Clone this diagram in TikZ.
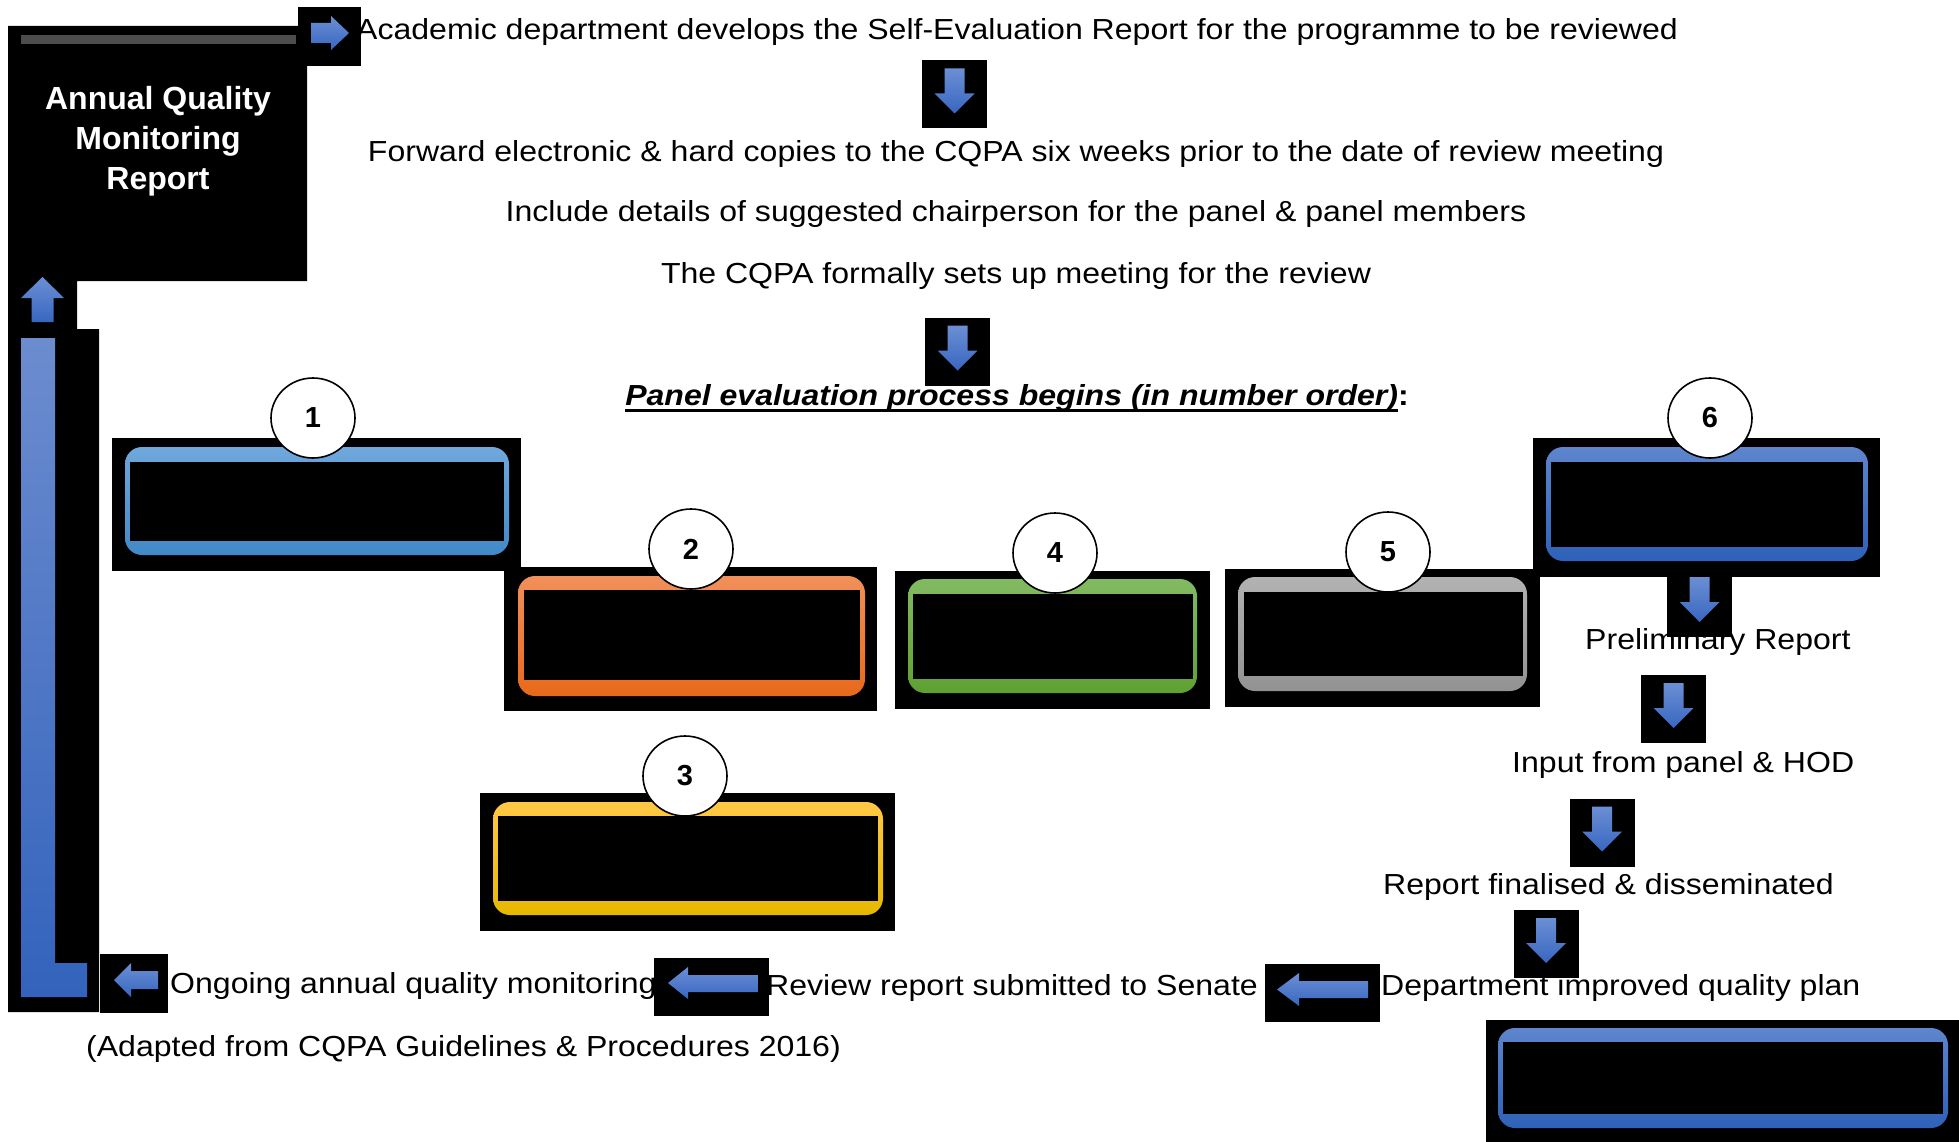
\documentclass[tikz,border=0pt]{standalone}
\usepackage{fontspec}
\setmainfont{Liberation Sans}
\newfontfamily\widesans{Liberation Sans}[FakeStretch=1.105]
\usetikzlibrary{shapes.geometric}

\definecolor{arrtop}{HTML}{6B8FD4}
\definecolor{arrbot}{HTML}{3866C0}
\definecolor{bartop}{HTML}{6C8CCF}
\definecolor{barbot}{HTML}{3363BC}
\definecolor{greybar}{HTML}{4D4D4D}
\definecolor{oneT}{HTML}{6FA8DC}\definecolor{oneB}{HTML}{4189C7}
\definecolor{twoT}{HTML}{F1905A}\definecolor{twoB}{HTML}{E8691A}
\definecolor{thrT}{HTML}{FFC845}\definecolor{thrB}{HTML}{E6B800}
\definecolor{fouT}{HTML}{82BA62}\definecolor{fouB}{HTML}{5FA032}
\definecolor{fivT}{HTML}{B2B2B2}\definecolor{fivB}{HTML}{929292}
\definecolor{sixT}{HTML}{5E85CD}\definecolor{sixB}{HTML}{2E61B8}

% underline drawn through the descenders, as in a word processor
\newcommand\ulwords[1]{\setbox0\hbox{#1}\rlap{\rule[-6.5pt]{\wd0}{2.5pt}}\box0}

\begin{document}
\begin{tikzpicture}[x=1pt,y=-1pt,
  blk/.style={fill=black},
  arr/.style={top color=arrtop,bottom color=arrbot,draw=none},
  frame/.style 2 args={rounded corners=17pt,top color=#1,bottom color=#2,draw=none},
  lbl/.style={inner sep=0pt,font=\widesans\fontsize{29}{34}\selectfont},
  numc/.style={ellipse,draw=black,line width=1.6pt,fill=white,minimum width=84pt,
    minimum height=80pt,inner sep=0pt,font=\bfseries\fontsize{29}{29}\selectfont},
  pics/downarr/.style={code={
    \fill[black] (-32.5,-34) rectangle (32.5,34);
    \path[arr] (-10,-26) -- (10,-26) -- (10,-1) -- (20,-1) -- (0,19) -- (-20,-1) -- (-10,-1) -- cycle;
  }}
]
\useasboundingbox[fill=white] (0,0) rectangle (1959,1142);

% ---- Annual Quality Monitoring Report column ----
\fill[blk] (8,26) -- (307,26) -- (307,281) -- (77,281) -- (77,329) -- (99,329)
  -- (99,1012) -- (8,1012) -- cycle;
\fill[greybar] (21,35) rectangle (296,44);
\node[align=center,text=white,inner sep=0pt,font=\bfseries\fontsize{32}{40}\selectfont]
  (aqmr) at (158,141.5) {Annual Quality\\Monitoring\\Report};
% up arrow above the return bar
\path[arr] (42.5,277) -- (64,298) -- (53.5,298) -- (53.5,322) -- (31.5,322) -- (31.5,298) -- (21,298) -- cycle;
% return bar (L shape)
\path[top color=bartop,bottom color=barbot] (21,338) -- (55,338) -- (55,963) -- (87,963)
  -- (87,997) -- (21,997) -- cycle;

% ---- top sequence of steps ----
\node[lbl,anchor=base] (s1) at (1017,40)
  {Academic department develops the Self-Evaluation Report for the programme to be reviewed};
\node[lbl,anchor=base] (s2) at (1016,162)
  {Forward electronic \& hard copies to the CQPA six weeks prior to the date of review meeting};
\node[lbl,anchor=base] (s3) at (1016,222)
  {Include details of suggested chairperson for the panel \& panel members};
\node[lbl,anchor=base] (s4) at (1016,283)
  {The CQPA formally sets up meeting for the review};
\node[lbl,anchor=base] (s5) at (1017,405)
  {\ulwords{\bfseries\itshape Panel evaluation process begins (in number order)}\textbf{:}};

% right arrow into the first step
\fill[blk] (298,7) rectangle (361,66);
\path[arr] (311,23) -- (331,23) -- (331,16) -- (349,33) -- (331,50) -- (331,43) -- (311,43) -- cycle;

\pic (d1) at (954.5,94.5) {downarr};
\pic (d2) at (957.5,351.5) {downarr};

% ---- numbered panel stages ----
% 1
\fill[blk] (112,438) rectangle (521,571);
\path[frame={oneT}{oneB}] (125,447) rectangle (509,555);
\fill[blk] (130,462) rectangle (504,541);
\node[numc] (n1) at (313,418) {1};
% 2
\fill[blk] (504,567) rectangle (877,711);
\path[frame={twoT}{twoB}] (518,576) rectangle (865,696);
\fill[blk] (524,590) rectangle (860,680);
\node[numc] (n2) at (691,549) {2};
% 3
\fill[blk] (480,793) rectangle (895,931);
\path[frame={thrT}{thrB}] (493,802) rectangle (883,915);
\fill[blk] (498,816) rectangle (878,901);
\node[numc] (n3) at (685,776) {3};
% 4
\fill[blk] (895,571) rectangle (1210,709);
\path[frame={fouT}{fouB}] (908,579) rectangle (1197,693);
\fill[blk] (913,594) rectangle (1193,679);
\node[numc] (n4) at (1055,553) {4};
% 5
\fill[blk] (1225,569) rectangle (1540,707);
\path[frame={fivT}{fivB}] (1238,577) rectangle (1527,691);
\fill[blk] (1244,592) rectangle (1523,676);
\node[numc] (n5) at (1388,552) {5};
% 6
\fill[blk] (1533,438) rectangle (1880,577);
\path[frame={sixT}{sixB}] (1546,447) rectangle (1868,561);
\fill[blk] (1551,462) rectangle (1863,547);
\node[numc] (n6) at (1710,418) {6};
% final plan box
\fill[blk] (1486,1020) rectangle (1959,1142);
\path[frame={sixT}{sixB}] (1498,1028) rectangle (1948,1128);
\fill[blk] (1503,1042) rectangle (1943,1114);

% ---- reporting steps on the right ----
\node[lbl,anchor=base west] (r1) at (1585,649) {Preliminary Report};
\node[lbl,anchor=base west] (r2) at (1512,772) {Input from panel \& HOD};
\node[lbl,anchor=base west] (r3) at (1383,894) {Report finalised \& disseminated};
\node[lbl,anchor=base west] (r4) at (1381,995) {Department improved quality plan};
\node[lbl,anchor=base west] (r5) at (766,995) {Review report submitted to Senate};
\node[lbl,anchor=base west] (r6) at (170,993) {Ongoing annual quality monitoring};
\node[lbl,anchor=base west] (src) at (86,1056) {(Adapted from CQPA Guidelines \& Procedures 2016)};

\pic (d3) at (1699.5,603) {downarr};
\pic (d4) at (1673.5,709) {downarr};
\pic (d5) at (1602,832.5) {downarr};
\pic (d6) at (1546,944) {downarr};

% left arrows along the bottom
\fill[blk] (1265,964) rectangle (1380,1022);
\path[arr] (1277,989.5) -- (1299,973) -- (1299,981) -- (1368,981) -- (1368,998) -- (1299,998) -- (1299,1006) -- cycle;
\fill[blk] (654,958) rectangle (769,1016);
\path[arr] (668,983) -- (688,967) -- (688,975) -- (758,975) -- (758,992) -- (688,992) -- (688,999) -- cycle;
\fill[blk] (100,954) rectangle (168,1013);
\path[arr] (114,980) -- (131,963) -- (131,971) -- (158,971) -- (158,989) -- (131,989) -- (131,997) -- cycle;
\end{tikzpicture}
\end{document}
